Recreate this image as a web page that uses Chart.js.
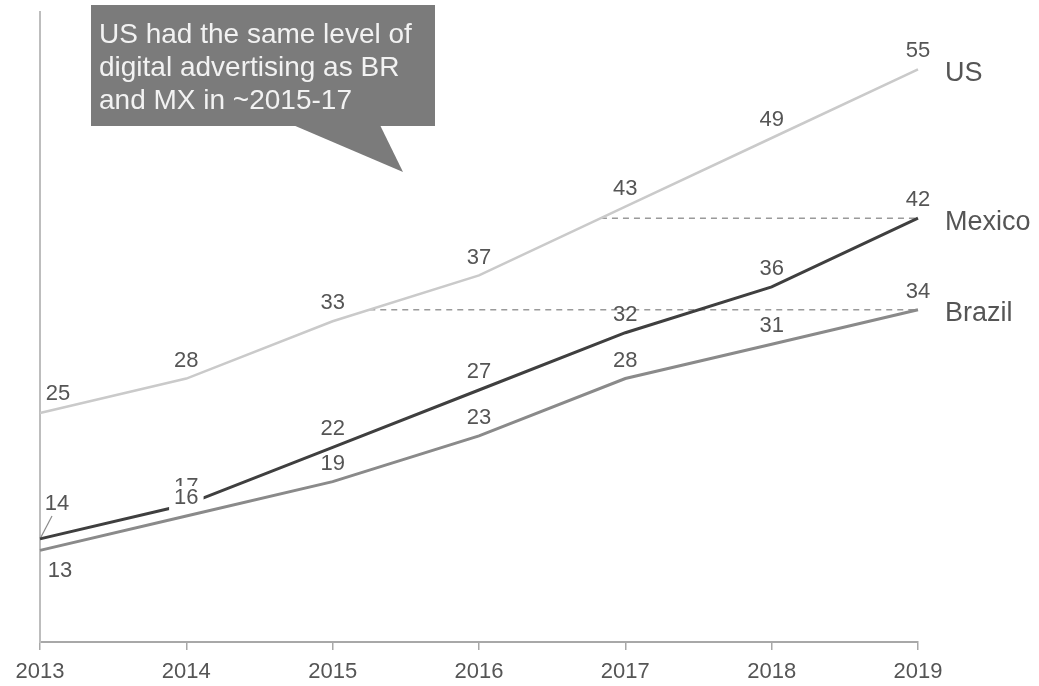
<!DOCTYPE html>
<html><head><meta charset="utf-8">
<script src="https://cdn.jsdelivr.net/npm/chart.js@4/dist/chart.umd.min.js"></script>
<style>html,body{margin:0;padding:0;background:#fff}canvas{display:block}</style>
</head><body>
<canvas id="c" width="1039" height="686"></canvas>
<script>
const years = ['2013','2014','2015','2016','2017','2018','2019'];
const usValues = [25, 28, 33, 37, 43, 49, 55];
const mexicoValues = [14, 17, 22, 27, 32, 36, 42];
const brazilValues = [13, 16, 19, 23, 28, 31, 34];
const seriesNames = ['US', 'Mexico', 'Brazil'];
const calloutLines = ['US had the same level of', 'digital advertising as BR', 'and MX in ~2015-17'];
const yMin = 5, yMax = 60;

const FONT = '"Liberation Sans", Arial, Helvetica, sans-serif';
const TEXT = '#555555';

const overlay = {
  id: 'overlay',
  beforeDatasetsDraw(chart) {
    const {ctx, chartArea: a, scales: {x, y}} = chart;
    const us = chart.data.datasets[0].data;
    const crossX = v => {
      for (let i = 0; i < us.length - 1; i++) {
        if (us[i] <= v && us[i + 1] >= v) {
          const t = (v - us[i]) / (us[i + 1] - us[i]);
          const x0 = x.getPixelForValue(i), x1 = x.getPixelForValue(i + 1);
          return x0 + t * (x1 - x0);
        }
      }
      return a.left;
    };
    ctx.save();
    ctx.setLineDash([6, 5]);
    ctx.strokeStyle = '#9a9a9a';
    ctx.lineWidth = 1.5;
    [1, 2].forEach(di => {
      const d = chart.data.datasets[di].data;
      const v = d[d.length - 1];
      const py = y.getPixelForValue(v);
      ctx.beginPath();
      ctx.moveTo(crossX(v), py);
      ctx.lineTo(x.getPixelForValue(d.length - 1), py);
      ctx.stroke();
    });
    ctx.restore();
  },
  afterDatasetsDraw(chart) {
    const {ctx, chartArea: a, scales: {x, y}} = chart;
    ctx.save();
    ctx.font = '22px ' + FONT;
    ctx.textAlign = 'center';
    ctx.textBaseline = 'middle';
    [0, 1, 2].forEach(di => {
      const d = chart.data.datasets[di].data;
      d.forEach((v, i) => {
        const px = x.getPixelForValue(i), py = y.getPixelForValue(v);
        let dx = 0, dy = -18;
        if (i === 0) {
          if (di === 0) { dx = 18; dy = -19; }
          if (di === 1) { dx = 17; dy = -35; }
          if (di === 2) { dx = 20; dy = 21; }
        }
        const lx = px + dx, ly = py + dy;
        const txt = String(v);
        if (di === 2 && i === 1) {
          const w = ctx.measureText(txt).width + 10;
          ctx.fillStyle = '#ffffff';
          ctx.fillRect(lx - w / 2, ly - 12, w, 24);
        }
        if (di === 1 && i === 0) {
          ctx.strokeStyle = '#8a8a8a';
          ctx.lineWidth = 1.2;
          ctx.beginPath();
          ctx.moveTo(px + 1, py - 2);
          ctx.lineTo(px + 12, py - 23);
          ctx.stroke();
        }
        ctx.fillStyle = TEXT;
        ctx.fillText(txt, lx, ly);
      });
      const lastV = d[d.length - 1];
      ctx.save();
      ctx.font = '27px ' + FONT;
      ctx.textAlign = 'left';
      ctx.fillStyle = TEXT;
      ctx.fillText(chart.data.datasets[di].label, a.right + 27, y.getPixelForValue(lastV) + 4);
      ctx.restore();
    });
    ctx.restore();
  },
  afterDraw(chart) {
    const {ctx, chartArea: a} = chart;
    ctx.save();
    const bx = a.left + 51, by = 5, bw = 344, bh = 121;
    ctx.fillStyle = '#7b7b7b';
    ctx.fillRect(bx, by, bw, bh);
    ctx.beginPath();
    ctx.moveTo(bx + 202, by + bh - 1);
    ctx.lineTo(bx + 289, by + bh - 1);
    ctx.lineTo(bx + 312, by + bh + 46);
    ctx.closePath();
    ctx.fill();
    ctx.fillStyle = '#f2f2f2';
    ctx.font = '28px ' + FONT;
    ctx.textAlign = 'left';
    ctx.textBaseline = 'middle';
    calloutLines.forEach((t, i) => ctx.fillText(t, bx + 8, by + 30 + i * 33));
    ctx.restore();
  }
};

new Chart(document.getElementById('c'), {
  type: 'line',
  data: {
    labels: years,
    datasets: [
      {label: seriesNames[0], data: usValues, borderColor: '#cacaca', borderWidth: 2.5, pointRadius: 0, tension: 0, fill: false},
      {label: seriesNames[1], data: mexicoValues, borderColor: '#3f3f3f', borderWidth: 3, pointRadius: 0, tension: 0, fill: false},
      {label: seriesNames[2], data: brazilValues, borderColor: '#8a8a8a', borderWidth: 3, pointRadius: 0, tension: 0, fill: false}
    ]
  },
  options: {
    responsive: false,
    animation: false,
    devicePixelRatio: 1,
    layout: {padding: {left: 40, right: 121, top: 12, bottom: 0}},
    plugins: {legend: {display: false}, tooltip: {enabled: false}},
    scales: {
      x: {
        offset: false,
        grid: {display: true, drawOnChartArea: false, tickLength: 8, color: '#a8a8a8', lineWidth: 1.5},
        border: {display: true, color: '#a8a8a8', width: 2},
        ticks: {color: TEXT, font: {family: FONT, size: 22}, padding: 9, maxRotation: 0, autoSkip: false},
        afterFit: s => { s.height = 44; }
      },
      y: {
        min: yMin, max: yMax,
        grid: {display: true, drawOnChartArea: false, tickLength: 0, color: 'rgba(0,0,0,0)'},
        border: {display: true, color: '#bdbdbd', width: 2},
        ticks: {display: false},
        afterFit: s => { s.width = 0; }
      }
    }
  },
  plugins: [overlay]
});
</script>
</body></html>
